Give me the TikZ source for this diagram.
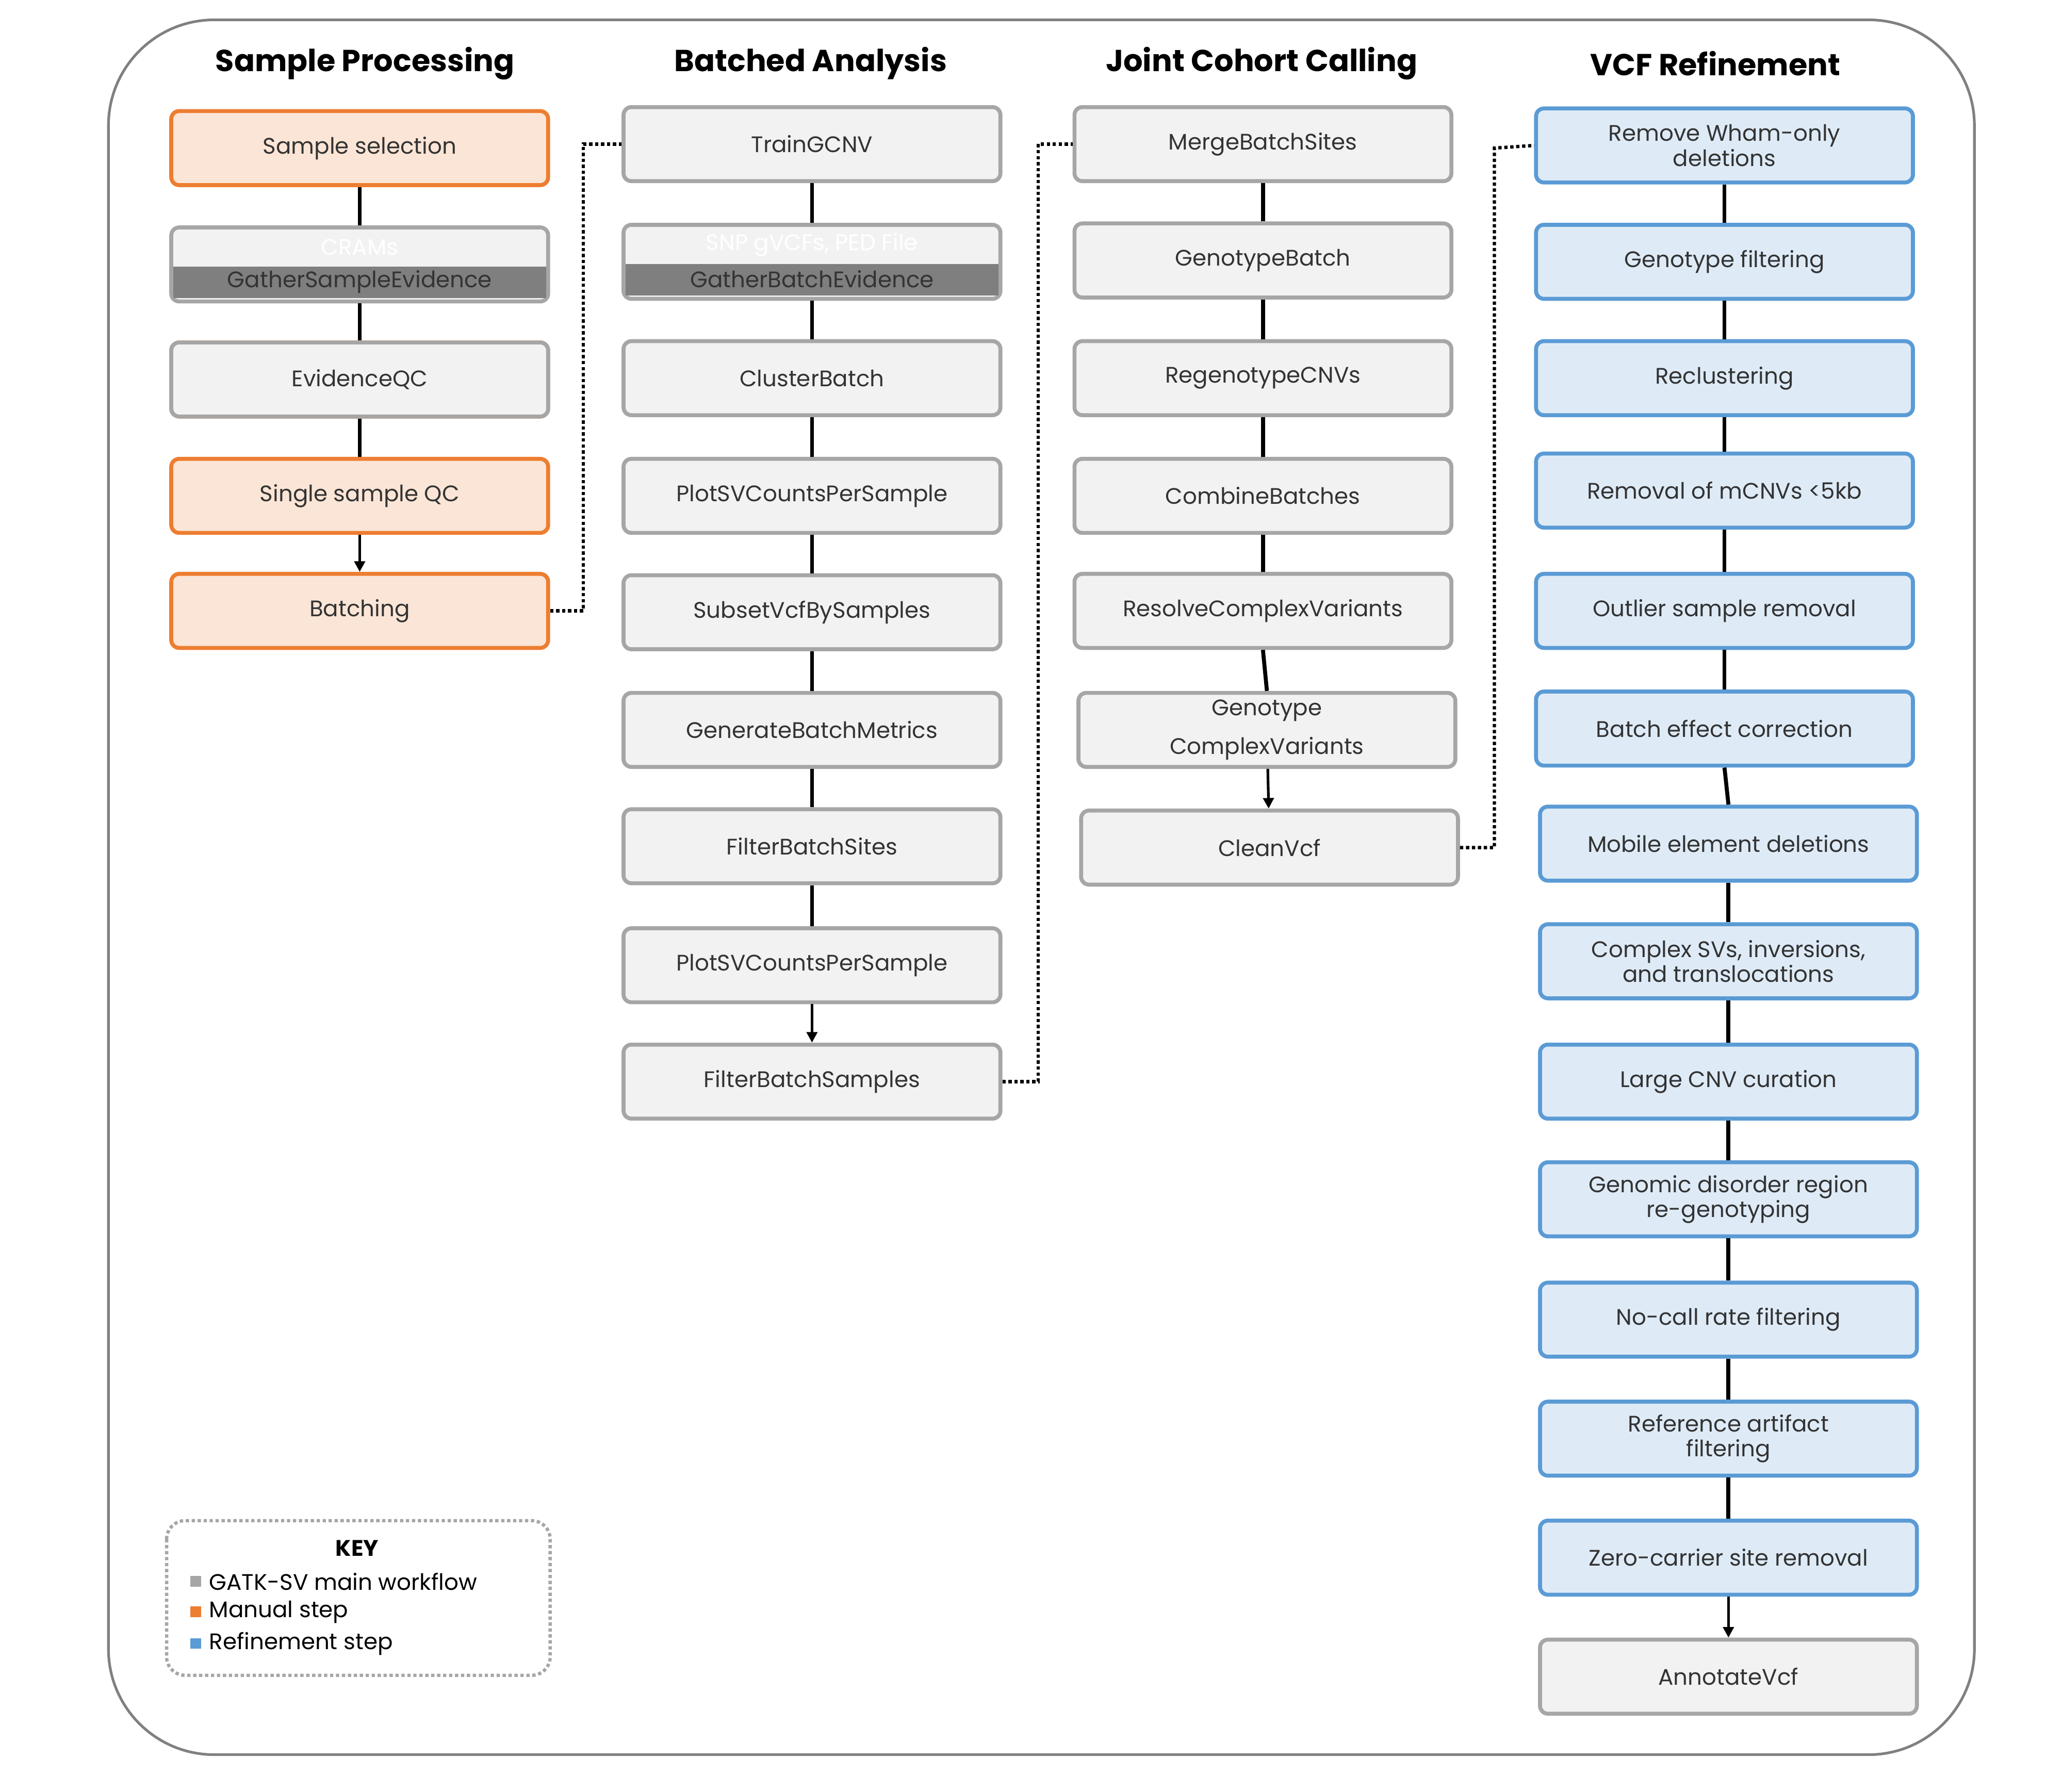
\documentclass[tikz,border=0pt]{standalone}
\usepackage{fontspec}
\setmainfont{Poppins}
\usetikzlibrary{arrows.meta}
\definecolor{gbd}{HTML}{A6A6A6}\definecolor{gbf}{HTML}{F2F2F2}
\definecolor{obd}{HTML}{ED7D31}\definecolor{obf}{HTML}{FBE5D6}
\definecolor{bbd}{HTML}{5B9BD5}\definecolor{bbf}{HTML}{DEEBF7}
\definecolor{dk}{HTML}{7F7F7F}\definecolor{txt}{HTML}{333333}
\begin{document}
\begin{tikzpicture}[x=1pt,y=-1pt,
 box/.style={rectangle,rounded corners=6pt,line width=3pt,minimum width=285pt,minimum height=56pt,align=center,text=txt,font=\fontsize{17}{19}\selectfont,inner sep=2pt},
 g/.style={box,draw=gbd,fill=gbf},
 o/.style={box,draw=obd,fill=obf},
 b/.style={box,draw=bbd,fill=bbf},
 hd/.style={font=\fontsize{23}{26}\selectfont\bfseries},
 ln/.style={line width=3pt},
 ar/.style={line width=2pt,-{Triangle[length=8pt,width=8pt]}},
 dt/.style={line width=2.5pt,dotted}]
\useasboundingbox (0,0) rectangle (1560,1355);
\draw[line width=2pt,draw=gray,rounded corners=80pt] (82,15) rectangle (1493,1327);
\node[hd] at (276,48) {Sample Processing};
\node[hd] at (613,48) {Batched Analysis};
\node[hd] at (954,48) {Joint Cohort Calling};
\node[hd] at (1297,48) {VCF Refinement};
% col1
\node[o] (a1) at (272,112) {Sample selection};
\node[g] (a2) at (272,200) {};
\node[o] (a3) at (272,287) {};
\node[g] (a3) at (272,287) {EvidenceQC};
\node[o] (a4) at (272,375) {Single sample QC};
\node[o] (a5) at (272,462) {Batching};
% col2
\node[g] (b1) at (614,109) {TrainGCNV};
\node[g] (b2) at (614,198) {};
\node[g] (b3) at (614,286) {ClusterBatch};
\node[g] (b4) at (614,375) {PlotSVCountsPerSample};
\node[g] (b5) at (614,463) {SubsetVcfBySamples};
\node[g] (b6) at (614,552) {GenerateBatchMetrics};
\node[g] (b7) at (614,640) {FilterBatchSites};
\node[g] (b8) at (614,730) {PlotSVCountsPerSample};
\node[g] (b9) at (614,818) {FilterBatchSamples};
% split boxes
\foreach \n/\t/\s in {a2/GatherSampleEvidence/CRAMs,b2/GatherBatchEvidence/{SNP gVCFs, PED File}}{
 \fill[dk] ([xshift=3pt,yshift=-1.5pt]\n.west) rectangle ([xshift=-3pt,yshift=4pt]\n.south east);
 \node[text=txt,font=\fontsize{17}{19}\selectfont] at ([yshift=-13pt]\n.center) {\t};
 \node[text=white,font=\fontsize{17}{19}\selectfont] at ([yshift=13pt]\n.center) {\s};}
% col3
\node[g] (c1) at (955,109) {MergeBatchSites};
\node[g] (c2) at (955,197) {GenotypeBatch};
\node[g] (c3) at (955,286) {RegenotypeCNVs};
\node[g] (c4) at (955,375) {CombineBatches};
\node[g] (c5) at (955,462) {ResolveComplexVariants};
\node[g,font=\fontsize{17}{29}\selectfont] (c6) at (958,552) {Genotype\\ComplexVariants};
\node[g] (c7) at (960,641) {CleanVcf};
% col4
\node[b] (d1) at (1304,110) {Remove Wham-only\\deletions};
\node[b] (d2) at (1304,198) {Genotype filtering};
\node[b] (d3) at (1304,286) {Reclustering};
\node[b] (d4) at (1304,371) {Removal of mCNVs <5kb};
\node[b] (d5) at (1304,462) {Outlier sample removal};
\node[b] (d6) at (1304,551) {Batch effect correction};
\node[b] (d7) at (1307,638) {Mobile element deletions};
\node[b] (d8) at (1307,727) {Complex SVs, inversions,\\and translocations};
\node[b] (d9) at (1307,818) {Large CNV curation};
\node[b] (d10) at (1307,907) {Genomic disorder region\\re-genotyping};
\node[b] (d11) at (1307,998) {No-call rate filtering};
\node[b] (d12) at (1307,1088) {Reference artifact\\filtering};
\node[b] (d13) at (1307,1178) {Zero-carrier site removal};
\node[g] (d14) at (1307,1268) {AnnotateVcf};
% connectors
\draw[ln] (a1)--(a2); \draw[ln] (a2)--(a3); \draw[ln] (a3)--(a4); \draw[ar] (a4)--(a5);
\foreach \i/\j in {1/2,2/3,3/4,4/5,5/6,6/7,7/8}{\draw[ln] (b\i)--(b\j);}
\draw[ar] (b8)--(b9);
\foreach \i/\j in {1/2,2/3,3/4,4/5,5/6}{\draw[ln] (c\i.south)--(c\j.north);}
\draw[ar] (c6)--(c7);
\foreach \i/\j in {1/2,2/3,3/4,4/5,5/6,6/7,7/8,8/9,9/10,10/11,11/12,12/13}{\draw[ln] (d\i.south)--(d\j.north);}
\draw[ar] (d13)--(d14);
\draw[dt] (a5.east) -| (441,109) -- (b1.west);
\draw[dt] (b9.east) -| (785,109) -- (c1.west);
\draw[dt] (c7.east) -| (1130,112) -- (d1.west);
% key
\draw[line width=2.5pt,dotted,gbd,rounded corners=14pt] (126,1150) rectangle (416,1267);
\node[font=\fontsize{17}{19}\selectfont\bfseries] (k) at (270,1171) {KEY};
\foreach \y/\c/\t in {1196/gbd/GATK-SV main workflow,1219/obd/Manual step,1243/bbd/Refinement step}{
 \fill[\c] (144,\y-4) rectangle (152,\y+4);
 \node[anchor=west,font=\fontsize{17}{19}\selectfont,inner sep=0] at (158,\y) {\t};}
\end{tikzpicture}
\end{document}
